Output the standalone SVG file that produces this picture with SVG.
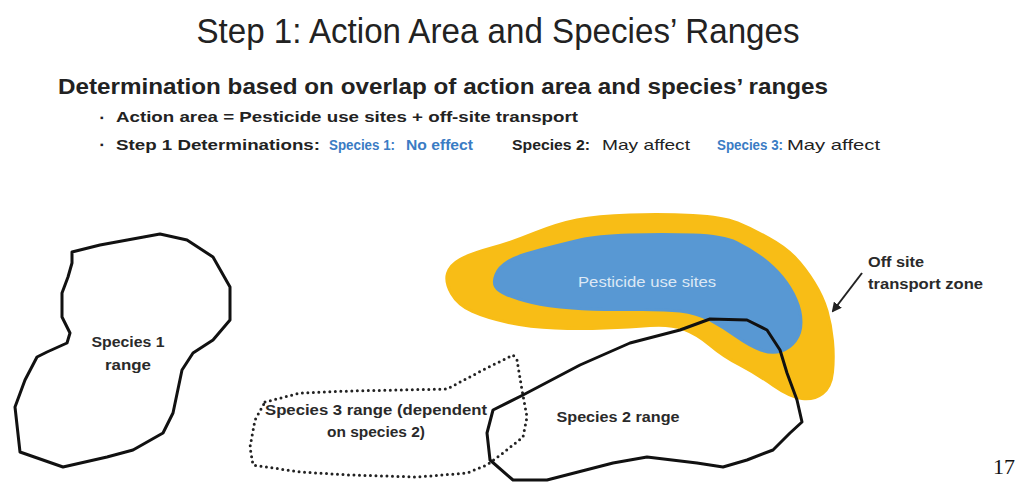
<svg xmlns="http://www.w3.org/2000/svg" width="1023" height="482" viewBox="0 0 1023 482">
<defs>
<style>
.t{font-family:"Liberation Sans",Arial,sans-serif;fill:#222}
.b{font-weight:bold}
.lab{font-family:"Liberation Sans",Arial,sans-serif;font-weight:bold;font-size:14px;fill:#2a2a2a;text-anchor:middle}
.labl{font-family:"Liberation Sans",Arial,sans-serif;font-weight:bold;font-size:14px;fill:#2a2a2a}
.range{fill:none;stroke:#111;stroke-width:3;stroke-linejoin:round;stroke-linecap:round}
.dot{fill:none;stroke:#222;stroke-width:3;stroke-dasharray:0 5.5;stroke-linecap:round;stroke-linejoin:round}
.blue{fill:#3a7cc4}
</style>
<marker id="ah" markerWidth="10" markerHeight="10" refX="8" refY="5" orient="auto" markerUnits="userSpaceOnUse">
<path d="M0,0 L10,5 L0,10 Z" fill="#222"/>
</marker>
</defs>
<rect width="1023" height="482" fill="#ffffff"/>
<g id="header">
<text class="t" x="498" y="43" font-size="35" text-anchor="middle" textLength="603" lengthAdjust="spacingAndGlyphs" fill="#262626">Step 1: Action Area and Species’ Ranges</text>
<text class="t b" x="58" y="94" font-size="22" textLength="770" lengthAdjust="spacingAndGlyphs">Determination based on overlap of action area and species’ ranges</text>
<text class="t" x="100" y="121" font-size="10">▪</text>
<text class="t b" x="116" y="122" font-size="15" textLength="462" lengthAdjust="spacingAndGlyphs">Action area = Pesticide use sites + off-site transport</text>
<text class="t" x="100" y="148" font-size="10">▪</text>
<text class="t b" x="116" y="150" font-size="15.5" textLength="204" lengthAdjust="spacingAndGlyphs">Step 1 Determinations:</text>
<text class="t b blue" x="329" y="150" font-size="14" textLength="66" lengthAdjust="spacingAndGlyphs">Species 1:</text>
<text class="t b blue" x="406" y="150" font-size="14" textLength="67" lengthAdjust="spacingAndGlyphs">No effect</text>
<text class="t b" x="512" y="150" font-size="15.5" textLength="78" lengthAdjust="spacingAndGlyphs">Species 2:</text>
<text class="t" x="602" y="150" font-size="15" textLength="88" lengthAdjust="spacingAndGlyphs">May affect</text>
<text class="t b blue" x="717" y="150" font-size="14" textLength="66" lengthAdjust="spacingAndGlyphs">Species 3:</text>
<text class="t" x="787" y="150" font-size="15" fill="#5a7fae" textLength="93" lengthAdjust="spacingAndGlyphs">May affect</text>
</g>
<g id="action-area">
<path d="M451.5,293.5 Q445,282 447.5,273.5 Q450,265 460,259.5 Q470,254 491.5,248 Q513,242 535,233 Q557,224 577,220 Q597,216 630,215 Q663,214 693,215.5 Q723,217 737.5,223 Q752,229 768.5,238 Q785,247 795,257.5 Q805,268 814,282.5 Q823,297 827,311 Q831,325 832.5,341 Q834,357 832.5,372 Q831,387 822.5,393.5 Q814,400 802,398.5 Q790,397 773.5,385.5 Q757,374 740,365 Q723,356 710,345 Q697,334 683.5,329 Q670,324 650,325.5 Q630,327 605,328 Q580,329 555,328 Q530,327 508.5,322.5 Q487,318 472.5,311.5 Q458,305 451.5,293.5 Z" fill="#f8bd16" stroke="#f8bd16" stroke-width="3" stroke-linejoin="round"/>
<path d="M495.5,286.5 Q493,282 496,274.5 Q499,267 508,261.5 Q517,256 540,250 Q563,244 580,240 Q597,236 630,235 Q663,234 693,235 Q723,236 736.5,242.5 Q750,249 762,258 Q774,267 782.5,277.5 Q791,288 796,299.5 Q801,311 801,322 Q801,333 795.5,340.5 Q790,348 781,351 Q772,354 761,350 Q750,346 736.5,336.5 Q723,327 710,320 Q697,313 680,311 Q663,309 630,309.5 Q597,310 572,308 Q547,306 532,302.5 Q517,299 507.5,295 Q498,291 495.5,286.5 Z" fill="#5898d3" stroke="#5898d3" stroke-width="3" stroke-linejoin="round"/>
<text x="647" y="287" font-family="Liberation Sans, Arial, sans-serif" font-size="14" fill="#dde8f5" text-anchor="middle" textLength="138" lengthAdjust="spacingAndGlyphs">Pesticide use sites</text>
</g>
<g id="species1">
<path class="range" d="M72,252 L100,245 L160,234 L187,240 L213,257 L230,287 L230,320 L213,340 L193,353 L182,370 L173,413 L163,433 L133,450 L107,457 L63,467 L20,452 L15,407 L25,380 L37,357 L47,352 L67,343 L70,333 L62,317 L62,293 L68,277 L72,263 Z"/>
<text class="lab" x="128" y="347" textLength="73" lengthAdjust="spacingAndGlyphs">Species 1</text>
<text class="lab" x="128" y="370" textLength="46" lengthAdjust="spacingAndGlyphs">range</text>
</g>
<g id="species3">
<path class="dot" d="M265,402 L300,393 L350,391 L447,389 L483,370 L513,355 L517,360 L522,390 L527,417 L523,437 L503,453 L487,465 L467,473 L417,477 L350,475 L300,472 L253,465 L250,447 L255,420 Z"/>
<text class="lab" x="376" y="415" textLength="222" lengthAdjust="spacingAndGlyphs">Species 3 range (dependent</text>
<text class="lab" x="376" y="437" textLength="98" lengthAdjust="spacingAndGlyphs">on species 2)</text>
</g>
<g id="species2">
<path class="range" d="M493,410 L523,395 L580,365 L630,343 L680,330 L710,319 L747,320 L767,330 L780,350 L787,373 L797,400 L802,422 L790,433 L773,450 L747,460 L723,467 L697,463 L647,457 L613,463 L547,480 L513,480 L490,460 L487,433 Z"/>
<text class="lab" x="618" y="422" textLength="123" lengthAdjust="spacingAndGlyphs">Species 2 range</text>
</g>
<g id="offsite-label">
<text class="labl" x="868" y="267" textLength="56" lengthAdjust="spacingAndGlyphs">Off site</text>
<text class="labl" x="868" y="289" textLength="115" lengthAdjust="spacingAndGlyphs">transport zone</text>
</g>
<g id="connectors">
<line x1="862" y1="273" x2="833" y2="311" stroke="#222" stroke-width="2" marker-end="url(#ah)"/>
</g>
<text x="993" y="474" font-family="Liberation Serif, Times New Roman, serif" font-size="22" fill="#111">17</text>
</svg>
